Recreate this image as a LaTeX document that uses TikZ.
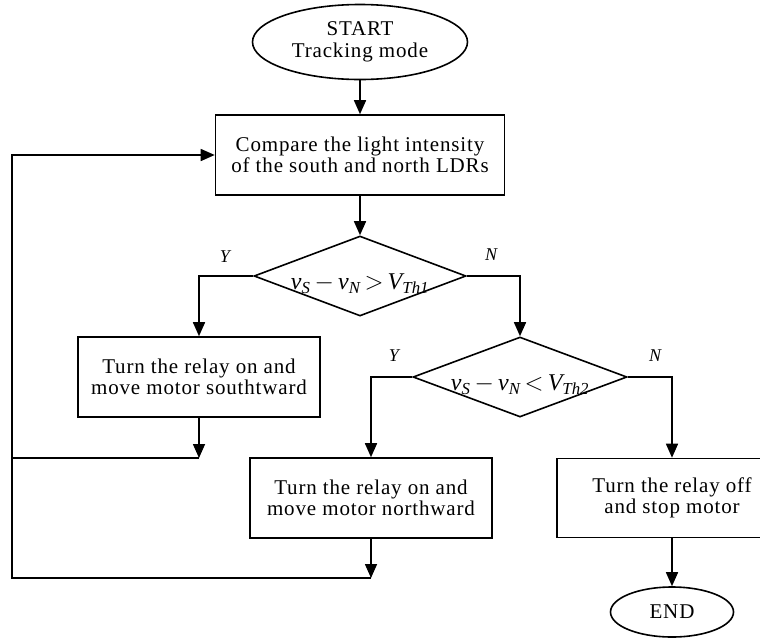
\documentclass[tikz,border=0pt]{standalone}
\usepackage{amsmath}
\usepackage{fontspec}
\setmainfont{Liberation Serif}
\newfontfamily\chartfont{Liberation Serif}[LetterSpace=4]
\usetikzlibrary{shapes.geometric,arrows.meta}
\newcommand{\gapexpr}[2]{$\textit{v}_{\textit{S}}\,{-}\,\textit{v}_{\textit{N}}\,{#1}\,\textit{V}_{\textit{Th#2}}$}

\begin{document}
\begin{tikzpicture}[x=1pt, y=-1pt, line width=1.6pt, >={Triangle[length=14pt,width=12pt]}]
    \tikzstyle{every node}=[inner sep=0pt]
    \tikzstyle{process}=[draw, rectangle, minimum height=80pt, align=center, font=\chartfont\fontsize{21}{21}\selectfont]
    \tikzstyle{terminal}=[draw, ellipse, align=center, font=\chartfont\fontsize{21}{22}\selectfont]
    \tikzstyle{decision}=[draw, diamond, minimum width=212pt, minimum height=80pt]
    \tikzstyle{cond}=[font=\fontsize{24}{24}\selectfont]
    \tikzstyle{branch}=[font=\itshape\fontsize{18}{18}\selectfont]
    \useasboundingbox (0,0) rectangle (760,638);
    % boxes
    \node [terminal, minimum width=215pt, minimum height=75pt] (start) at (360,42) {START\\Tracking mode};
    \node [process, minimum width=289pt] (compare) at (360,155) {Compare the light intensity\\of the south and north LDRs};
    \node [decision] (test1) at (360,276) {};
    \node [cond, yshift=-8pt] (test1txt) at (test1) {\gapexpr{>}{1}};
    \node [process, minimum width=242pt] (south) at (199,377) {Turn the relay on and\\move motor southtward};
    \node [decision, minimum width=214pt] (test2) at (520,377) {};
    \node [cond, yshift=-8pt] (test2txt) at (test2) {\gapexpr{<}{2}};
    \node [process, minimum width=242pt] (north) at (371,498) {Turn the relay on and\\move motor northward};
    \node [process, minimum width=230pt, minimum height=79pt] (stop) at (672,498) {Turn the relay off\\and stop motor};
    \node [terminal, minimum width=123pt, minimum height=50pt] (end) at (672,612) {END};
    % branch labels
    \node [branch] (yes1) at (225,257) {Y};
    \node [branch] (no1) at (491,255) {N};
    \node [branch] (yes2) at (394,356) {Y};
    \node [branch] (no2) at (655,356) {N};
    \coordinate (corner1) at (12,458);
    \coordinate (corner2) at (12,578);
    % connectors
    \draw [->] (start) -- (compare);
    \draw [->] (compare) -- (test1);
    \draw [->] (test1.west) -| (south.north);
    \draw [->] (test1.east) -| (test2.north);
    \draw [->] (test2.west) -| (north.north);
    \draw [->] (test2.east) -| (stop.north);
    \draw [->] (stop) -- (end);
    \draw [->] (south) -- (south |- corner1);
    \draw (south |- corner1) -- (corner1);
    \draw [->] (north) -- (north |- corner2);
    \draw [->] (north |- corner2) -- (corner2) |- (compare.west);
\end{tikzpicture}
\end{document}
